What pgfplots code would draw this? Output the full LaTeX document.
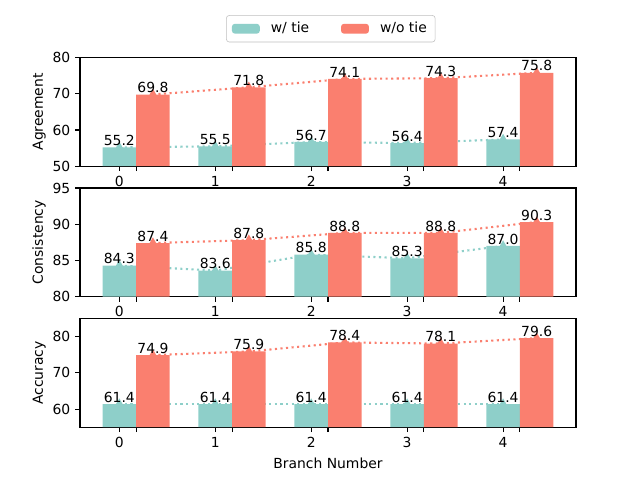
\documentclass[border=0pt]{standalone}
\usepackage{fontspec}
\setmainfont{DejaVu Sans}
\usepackage{pgfplots}
\pgfplotsset{compat=1.18}

\definecolor{tiecol}{HTML}{8ECFC9}
\definecolor{notiecol}{HTML}{FA7F6F}

\pgfplotsset{
  branch/.style={
    scale only axis, width=357.12pt, height=78.26pt,
    anchor=south west,
    xmin=-0.41, xmax=4.76,
    xtick={0,1,2,3,4},
    extra x ticks={0.175,1.175,2.175,3.175,4.175},
    extra x tick labels={},
    tick align=outside, xtick pos=bottom, ytick pos=left,
    major tick length=3.5pt,
    every tick/.style={black, line width=0.8pt},
    axis line style={line width=0.8pt},
    /pgf/number format/assume math mode=true,
    tick label style={font=\fontsize{10}{12}\selectfont},
    label style={font=\fontsize{10}{12}\selectfont},
    ylabel style={yshift=-2pt},
  },
  bars/.style={
    ybar, bar width=0.35, bar shift=0pt, fill=#1, draw=none,
    nodes near coords={\pgfmathprintnumber[fixed,fixed zerofill,precision=1]{\pgfplotspointmeta}},
    every node near coord/.append style={font=\fontsize{10}{12}\selectfont, black, inner sep=1pt},
  },
  trend/.style={
    #1, line width=1.5pt, dash pattern=on 1.5pt off 2.5pt,
    mark=triangle*, mark size=2.6pt, mark options={solid}, forget plot,
  },
}

\begin{document}
\begin{tikzpicture}
\path[use as bounding box] (0,0) rectangle (460.8pt,345.6pt);

% Agreement
\begin{axis}[branch, at={(57.6pt,225.9pt)},
    ymin=50, ymax=80, ytick={50,60,70,80},
    ylabel={Agreement},
    legend columns=2,
    legend style={at={(0.5,1)}, anchor=south, yshift=11pt, xshift=2pt,
      draw=lightgray, rounded corners=2pt, inner xsep=4pt, inner ysep=3pt,
      font=\fontsize{10}{12}\selectfont,
      /tikz/every odd column/.append style={column sep=6pt},
      /tikz/every even column/.append style={column sep=21pt}},
    legend image code/.code={\fill[#1] (0pt,-3.5pt) rectangle (20pt,3.5pt);},
  ]
  \addplot[trend=tiecol] coordinates {(0,55.2) (1,55.5) (2,56.7) (3,56.4) (4,57.4)};
  \addplot[trend=notiecol] coordinates {(0.35,69.8) (1.35,71.8) (2.35,74.1) (3.35,74.3) (4.35,75.8)};
  \addplot[bars=tiecol] coordinates {(0,55.2) (1,55.5) (2,56.7) (3,56.4) (4,57.4)};
  \addplot[bars=notiecol] coordinates {(0.35,69.8) (1.35,71.8) (2.35,74.1) (3.35,74.3) (4.35,75.8)};
  \legend{w/ tie, w/o tie}
\end{axis}

% Consistency
\begin{axis}[branch, at={(57.6pt,132.0pt)},
    ymin=80, ymax=95, ytick={80,85,90,95},
    ylabel={Consistency},
  ]
  \addplot[trend=tiecol] coordinates {(0,84.3) (1,83.6) (2,85.8) (3,85.3) (4,87.0)};
  \addplot[trend=notiecol] coordinates {(0.35,87.4) (1.35,87.8) (2.35,88.8) (3.35,88.8) (4.35,90.3)};
  \addplot[bars=tiecol] coordinates {(0,84.3) (1,83.6) (2,85.8) (3,85.3) (4,87.0)};
  \addplot[bars=notiecol] coordinates {(0.35,87.4) (1.35,87.8) (2.35,88.8) (3.35,88.8) (4.35,90.3)};
\end{axis}

% Accuracy
\begin{axis}[branch, at={(57.6pt,38.0pt)},
    ymin=55, ymax=85, ytick={60,70,80},
    ylabel={Accuracy}, xlabel={Branch Number},
    xlabel style={yshift=6pt},
  ]
  \addplot[trend=tiecol] coordinates {(0,61.4) (1,61.4) (2,61.4) (3,61.4) (4,61.4)};
  \addplot[trend=notiecol] coordinates {(0.35,74.9) (1.35,75.9) (2.35,78.4) (3.35,78.1) (4.35,79.6)};
  \addplot[bars=tiecol] coordinates {(0,61.4) (1,61.4) (2,61.4) (3,61.4) (4,61.4)};
  \addplot[bars=notiecol] coordinates {(0.35,74.9) (1.35,75.9) (2.35,78.4) (3.35,78.1) (4.35,79.6)};
\end{axis}
\end{tikzpicture}
\end{document}
